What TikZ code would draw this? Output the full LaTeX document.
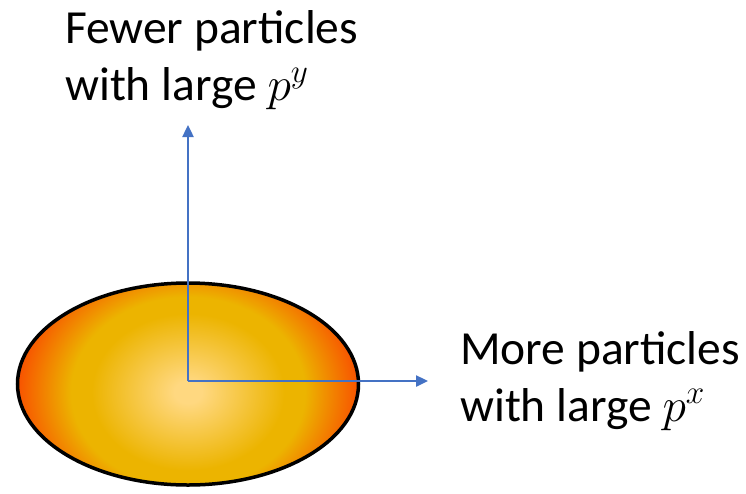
\RequirePackage{fix-cm}
\documentclass[tikz,border=0pt]{standalone}
\usepackage{fontspec}
\setmainfont{Carlito}
\usetikzlibrary{arrows.meta,shapes.geometric,positioning}
\definecolor{axisBlue}{RGB}{68,114,196}
\definecolor{coreLight}{RGB}{255,216,128}
\definecolor{coreMid}{RGB}{236,180,0}
\definecolor{coreEdge}{RGB}{248,80,0}
\pgfdeclareradialshading{blob}{\pgfpoint{0bp}{0bp}}{%
  color(0bp)=(coreLight); color(2bp)=(coreLight); color(14bp)=(coreMid);
  color(17bp)=(coreMid); color(25bp)=(coreEdge); color(50bp)=(coreEdge)}

\begin{document}
\begin{tikzpicture}[
  x=1pt,y=1pt,
  blobnode/.style={ellipse,draw=black,line width=3.5pt,inner sep=0pt,
              minimum width=341pt,minimum height=202pt,
              path picture={\shade[shading=blob]
                ([yshift=-8pt]path picture bounding box.center) ellipse [x radius=172pt,y radius=140pt];}},
  axis/.style={-{Triangle[length=12pt,width=11pt]},draw=axisBlue,line width=2.4pt},
  lbl/.style={anchor=base west,inner sep=0pt,font=\fontsize{47.5}{57}\selectfont}
]
  \useasboundingbox (0,0) rectangle (746,-493);

  \node[blobnode] (blob) at (188,-384) {};
  \coordinate (o) at (188,-381);
  \coordinate (ytip) at (188,-125);
  \coordinate (xtip) at (428,-381);

  % axes
  \draw[axis] (o) -- (ytip);
  \draw[axis] (o) -- (xtip);

  % labels
  \node[lbl] (fewA) at (65,-43)  {Fewer particles};
  \node[lbl] (fewB) at (65,-100) {with large $p^y$};
  \node[lbl] (moreA) at (460,-364) {More particles};
  \node[lbl] (moreB) at (460,-421) {with large $p^x$};
\end{tikzpicture}
\end{document}
